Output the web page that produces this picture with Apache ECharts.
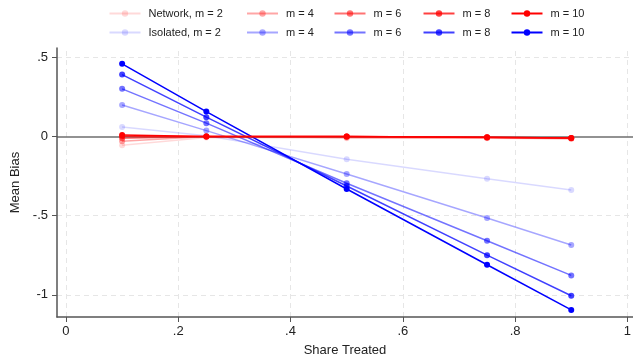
<!DOCTYPE html>
<html>
<head>
<meta charset="utf-8">
<script src="https://cdn.jsdelivr.net/npm/echarts@6/dist/echarts.min.js"></script>
<style>
  html, body { margin: 0; padding: 0; background: #fff; }
  #main { width: 633px; height: 356px; }
</style>
</head>
<body>
<div id="main"></div>
<script>
// share treated
var shares = [0.1, 0.25, 0.5, 0.75, 0.9];
var mLevels = [2, 4, 6, 8, 10];

// mean bias, network model (red)
var network2 = [-0.055, -0.005, -0.01, -0.01, -0.015];
var network4 = [-0.03, 0, -0.005, -0.008, -0.012];
var network6 = [-0.01, 0, 0, -0.005, -0.01];
var network8 = [0.003, 0, 0, -0.004, -0.008];
var network10 = [0.01, 0, 0, -0.004, -0.008];

// mean bias, isolated model (blue)
var isolated2 = [0.06, 0.005, -0.143, -0.266, -0.337];
var isolated4 = [0.2, 0.038, -0.236, -0.514, -0.685];
var isolated6 = [0.302, 0.085, -0.295, -0.658, -0.877];
var isolated8 = [0.392, 0.123, -0.312, -0.749, -1.006];
var isolated10 = [0.46, 0.158, -0.331, -0.81, -1.095];

var xTicks = [0, 0.2, 0.4, 0.6, 0.8, 1];
var yTicks = [-1, -0.5, 0, 0.5];

var networkData = [network2, network4, network6, network8, network10];
var isolatedData = [isolated2, isolated4, isolated6, isolated8, isolated10];
var alphas = [0.15, 0.35, 0.55, 0.75, 1];

function fmt(v) {
  if (v === 0) return '0';
  var s = String(v);
  return s.replace('0.', '.');
}

function pairs(ys) {
  return shares.map(function (x, i) { return [x, ys[i]]; });
}

var series = [];
var legends = [];
var legendLeft = [124, 261.5, 349, 438, 526];

// grid lines + zero line on a hidden helper series
series.push({
  name: 'grid',
  type: 'line',
  data: [],
  silent: true,
  z: 0,
  markLine: {
    symbol: 'none',
    silent: true,
    z: 0,
    label: { show: false },
    lineStyle: { color: '#e6e6e6', type: [5, 4], width: 1 },
    data: xTicks.map(function (v) { return { xAxis: v }; })
      .concat(yTicks.filter(function (v) { return v !== 0; }).map(function (v) { return { yAxis: v }; }))
      .concat([{ yAxis: 0, lineStyle: { color: '#6e6e6e', type: 'solid', width: 1.5 } }])
  }
});

function addGroup(prefix, data, rgb, row) {
  data.forEach(function (ys, i) {
    var name = prefix + ', m = ' + mLevels[i];
    var col = 'rgba(' + rgb + ',' + alphas[i] + ')';
    series.push({
      name: name,
      type: 'line',
      data: pairs(ys),
      symbol: 'circle',
      symbolSize: 6,
      lineStyle: { color: col, width: 1.5 },
      itemStyle: { color: col },
      emphasis: { disabled: true },
      z: 2 + row
    });
    legends.push({
      data: [name],
      left: legendLeft[i] - 20.5,
      top: row === 1 ? 3 : 22,
      itemWidth: 31,
      itemHeight: 8,
      selectedMode: false,
      formatter: function (n) { return i === 0 ? n : 'm = ' + mLevels[i]; },
      textStyle: { fontSize: 11, color: '#222', fontFamily: 'Liberation Sans', padding: [0, 0, 0, 3] }
    });
  });
}

addGroup('Isolated', isolatedData, '0,0,255', 0);
addGroup('Network', networkData, '255,0,0', 1);

var chart = echarts.init(document.getElementById('main'));
chart.setOption({
  animation: false,
  textStyle: { fontFamily: 'Liberation Sans' },
  legend: legends,
  grid: { left: 57, right: 0, top: 48, bottom: 39, containLabel: false, outerBoundsMode: 'none' },
  xAxis: {
    type: 'value',
    min: -0.016,
    max: 1.01,
    name: 'Share Treated',
    nameLocation: 'middle',
    nameGap: 27,
    nameTextStyle: { fontSize: 13, color: '#222' },
    axisLine: { onZero: false, lineStyle: { color: '#555', width: 1.5 } },
    axisTick: { show: true, length: 5, customValues: xTicks, lineStyle: { color: '#555' } },
    axisLabel: { customValues: xTicks, formatter: fmt, fontSize: 13, color: '#222', margin: 8 },
    splitLine: { show: false }
  },
  yAxis: {
    type: 'value',
    min: -1.14,
    max: 0.56,
    name: 'Mean Bias',
    nameLocation: 'middle',
    nameGap: 29,
    nameTextStyle: { fontSize: 13, color: '#222' },
    axisLine: { show: true, onZero: false, lineStyle: { color: '#555', width: 1.5 } },
    axisTick: { show: true, length: 5, customValues: yTicks, lineStyle: { color: '#555' } },
    axisLabel: { customValues: yTicks, formatter: fmt, fontSize: 13, color: '#222', margin: 9 },
    splitLine: { show: false }
  },
  series: series
});
</script>
</body>
</html>
